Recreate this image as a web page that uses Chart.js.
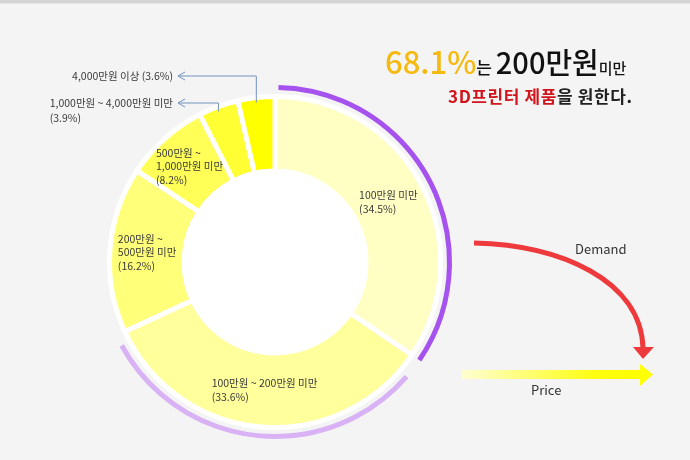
<!DOCTYPE html>
<html>
<head>
<meta charset="utf-8">
<script src="https://cdn.jsdelivr.net/npm/chart.js@4.4.1/dist/chart.umd.min.js"></script>
<style>
    html, body { margin: 0; padding: 0; }
    body {
        width: 690px; height: 460px; overflow: hidden; position: relative;
        background: #f4f4f4;
        font-family: "Noto Sans CJK KR", "Noto Sans", sans-serif;
    }
    #topline { position: absolute; left: 0; top: 0; width: 690px; height: 3px; background: #d4d4d4; border-bottom: 1px solid #e6e6e6; }
    #wrap { position: absolute; left: 0; top: 0; width: 690px; height: 460px; }
    .txt { position: absolute; white-space: nowrap; }
</style>
</head>
<body>
<div id="topline"></div>
<div id="wrap"><canvas id="priceChart" width="690" height="460"></canvas></div>

<div class="txt" style="left:385px; top:41px; line-height:40px; color:#111; font-weight:500;">
    <span style="color:#F5B90F; font-size:31px;">68.1%</span><span style="font-size:17px;">는 </span><span style="font-size:29px;">200만원</span><span style="font-size:15px;">미만</span>
</div>
<div class="txt" style="left:448px; top:84px; line-height:24px; font-size:17px; font-weight:bold; color:#222; letter-spacing:0.6px;">
    <span style="color:#D2151D;">3D프린터 제품</span>을 원한다.
</div>
<div class="txt" style="left:575px; top:239px; font-size:13px; color:#333;">Demand</div>
<div class="txt" style="left:531px; top:380px; font-size:13px; color:#333;">Price</div>

<script>
// 3D 프린터 희망 가격대 (응답 비율 %)
const categories = ['100만원 미만', '100만원 ~ 200만원 미만', '200만원 ~ 500만원 미만',
                    '500만원 ~ 1,000만원 미만', '1,000만원 ~ 4,000만원 미만', '4,000만원 이상'];
const shares = [34.5, 33.6, 16.2, 8.2, 3.9, 3.6];
const labelLines = [
    ['100만원 미만', '(34.5%)'],
    ['100만원 ~ 200만원 미만', '(33.6%)'],
    ['200만원 ~', '500만원 미만', '(16.2%)'],
    ['500만원 ~', '1,000만원 미만', '(8.2%)'],
    ['1,000만원 ~ 4,000만원 미만', '(3.9%)'],
    ['4,000만원 이상 (3.6%)']
];
const sliceColors = ['#FFFFC4', '#FFFF9C', '#FFFF7A', '#FFFF58', '#FFFF34', '#FFFF00'];

const LABEL_FONT = '10.5px "Noto Sans CJK KR", sans-serif';

const decorPlugin = {
    id: 'decor',
    beforeDatasetsDraw(chart) {
        // 가운데 흰 원
        const a = chart.getDatasetMeta(0).data[0];
        const ctx = chart.ctx;
        ctx.save();
        ctx.fillStyle = '#ffffff';
        ctx.beginPath();
        ctx.arc(a.x, a.y, a.innerRadius, 0, Math.PI * 2);
        ctx.fill();
        ctx.restore();
    },
    afterDatasetsDraw(chart) {
        const ctx = chart.ctx;
        const arcs = chart.getDatasetMeta(0).data;
        const cx = arcs[0].x, cy = arcs[0].y, R = arcs[0].outerRadius;

        // 바깥 보라색 호 (200만원 미만 구간)
        ctx.save();
        ctx.lineWidth = 5;
        ctx.lineCap = 'butt';
        ctx.strokeStyle = '#A552EE';
        ctx.beginPath();
        ctx.arc(cx, cy, R + 9, arcs[0].startAngle + 0.02, arcs[0].endAngle);
        ctx.stroke();
        ctx.strokeStyle = '#D8B2F4';
        ctx.beginPath();
        ctx.arc(cx, cy, R + 9, arcs[1].startAngle + 0.12, arcs[1].endAngle - 0.065);
        ctx.stroke();
        ctx.restore();

        // 안쪽 라벨
        ctx.save();
        ctx.font = LABEL_FONT;
        ctx.fillStyle = '#3a3a3a';
        ctx.textBaseline = 'middle';
        ctx.textAlign = 'left';
        const lh = 13.5;
        for (let i = 0; i < 4; i++) {
            const p = arcs[i].getCenterPoint();
            const lines = labelLines[i];
            const w = Math.max(...lines.map(t => ctx.measureText(t).width));
            const y0 = p.y - (lines.length - 1) * lh / 2;
            lines.forEach((t, k) => ctx.fillText(t, p.x - w / 2, y0 + k * lh));
        }

        // 작은 조각: 지시선 + 라벨
        const leaders = [{ idx: 5, y: 76 }, { idx: 4, y: 103 }];
        const endX = 178;
        ctx.strokeStyle = '#7393BD';
        ctx.lineWidth = 1;
        leaders.forEach(l => {
            const a = arcs[l.idx];
            const mid = (a.startAngle + a.endAngle) / 2;
            const px = cx + Math.cos(mid) * R;
            const py = cy + Math.sin(mid) * R + 5;
            ctx.beginPath();
            ctx.moveTo(px, py);
            ctx.lineTo(px, l.y);
            ctx.lineTo(endX, l.y);
            ctx.moveTo(endX + 7, l.y - 4);
            ctx.lineTo(endX, l.y);
            ctx.lineTo(endX + 7, l.y + 4);
            ctx.stroke();
            const lines = labelLines[l.idx];
            const w = Math.max(...lines.map(t => ctx.measureText(t).width));
            lines.forEach((t, k) => ctx.fillText(t, endX - 5 - w, l.y + k * 15));
        });
        ctx.restore();
    },
    afterDraw(chart) {
        const ctx = chart.ctx;
        ctx.save();
        // Demand 곡선 화살표
        ctx.strokeStyle = '#EE3A3C';
        ctx.fillStyle = '#EE3A3C';
        ctx.lineWidth = 5;
        ctx.lineCap = 'butt';
        ctx.beginPath();
        ctx.moveTo(474, 243);
        ctx.bezierCurveTo(560, 245, 641, 280, 643, 348);
        ctx.stroke();
        ctx.beginPath();
        ctx.moveTo(633, 347);
        ctx.lineTo(654, 347);
        ctx.lineTo(643, 359);
        ctx.closePath();
        ctx.fill();

        // Price 화살표
        const g = ctx.createLinearGradient(462, 0, 640, 0);
        g.addColorStop(0, '#FFFFD2');
        g.addColorStop(0.75, '#FFFF10');
        g.addColorStop(1, '#FFFF00');
        ctx.fillStyle = g;
        ctx.fillRect(462, 370, 180, 9);
        ctx.fillStyle = '#FFFF00';
        ctx.beginPath();
        ctx.moveTo(640, 364);
        ctx.lineTo(653, 374.5);
        ctx.lineTo(640, 386);
        ctx.closePath();
        ctx.fill();
        ctx.restore();
    }
};

const ctx = document.getElementById('priceChart').getContext('2d');
const priceChart = new Chart(ctx, {
    type: 'doughnut',
    data: {
        labels: categories,
        datasets: [{
            data: shares,
            backgroundColor: sliceColors,
            borderColor: '#ffffff',
            borderWidth: 5,
            hoverBorderWidth: 5,
            hoverOffset: 0
        }]
    },
    options: {
        responsive: false,
        animation: false,
        devicePixelRatio: 1,
        events: [],
        cutout: '55%',
        layout: { padding: { left: 107, right: 247, top: 94, bottom: 30 } },
        plugins: {
            legend: { display: false },
            tooltip: { enabled: false }
        }
    },
    plugins: [decorPlugin]
});
</script>
</body>
</html>
